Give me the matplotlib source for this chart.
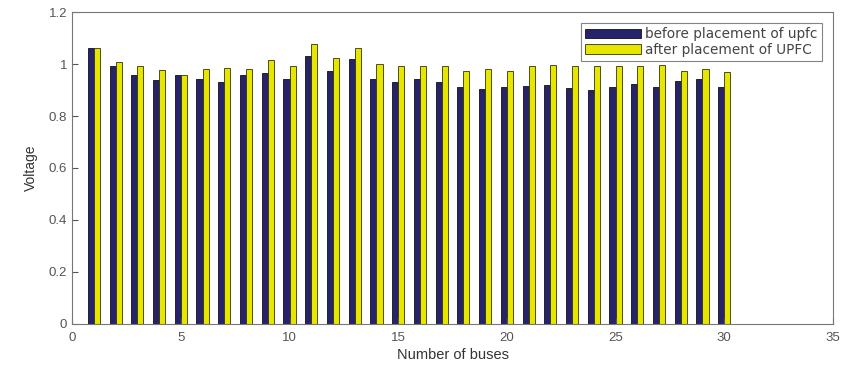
import matplotlib
matplotlib.use("Agg")
import matplotlib.pyplot as plt
import numpy as np

plt.rcParams['font.family'] = ['Liberation Sans', 'DejaVu Sans']

# bus voltages
buses = np.arange(1, 31)
before_upfc = [1.062, 0.993, 0.956, 0.939, 0.959, 0.941, 0.932, 0.959, 0.967, 0.941,
               1.032, 0.972, 1.019, 0.941, 0.931, 0.943, 0.931, 0.911, 0.903, 0.912,
               0.917, 0.920, 0.907, 0.902, 0.912, 0.925, 0.911, 0.935, 0.943, 0.912]
after_upfc = [1.062, 1.009, 0.991, 0.977, 0.959, 0.981, 0.985, 0.981, 1.015, 0.993,
              1.078, 1.023, 1.061, 0.999, 0.991, 0.993, 0.993, 0.972, 0.982, 0.972,
              0.991, 0.995, 0.991, 0.993, 0.993, 0.992, 0.996, 0.972, 0.982, 0.969]

fig = plt.figure(figsize=(8.49, 3.66), dpi=100)
ax = fig.add_axes([0.085, 0.115, 0.896, 0.852])

w = 0.28
ax.bar(buses - w / 2, before_upfc, width=w, color='#26236b', edgecolor='#111111',
       linewidth=0.6, label='before placement of upfc')
ax.bar(buses + w / 2, after_upfc, width=w, color='#e6e600', edgecolor='#333300',
       linewidth=0.6, label='after placement of UPFC')

ax.set_xlim(0, 35)
ax.set_ylim(0, 1.2)
ax.set_xticks(np.arange(0, 36, 5))
ax.set_yticks([0, 0.2, 0.4, 0.6, 0.8, 1, 1.2])
ax.set_yticklabels(['0', '0.2', '0.4', '0.6', '0.8', '1', '1.2'])
ax.tick_params(direction='in', length=4, colors='#555555', labelcolor='#555555', labelsize=9.5)
ax.tick_params(axis='x', pad=6)
for s in ax.spines.values():
    s.set_color('#777777')
    s.set_linewidth(0.8)

ax.set_xlabel('Number of buses', fontsize=10.5, color='#333333', labelpad=3)
ax.set_ylabel('Voltage', fontsize=10, color='#333333', labelpad=8)

leg = ax.legend(loc='upper right', frameon=True, fancybox=False,
                prop={'family': 'DejaVu Sans', 'size': 9.8},
                handlelength=4.1, handleheight=0.7, handletextpad=0.35,
                borderpad=0.3, labelspacing=0.12, borderaxespad=0,
                bbox_to_anchor=(0.9855, 0.965))
leg.get_frame().set_edgecolor('#666666')
leg.get_frame().set_linewidth(0.8)
for t in leg.get_texts():
    t.set_color('#444444')

fig.savefig('out.png', dpi=100)
